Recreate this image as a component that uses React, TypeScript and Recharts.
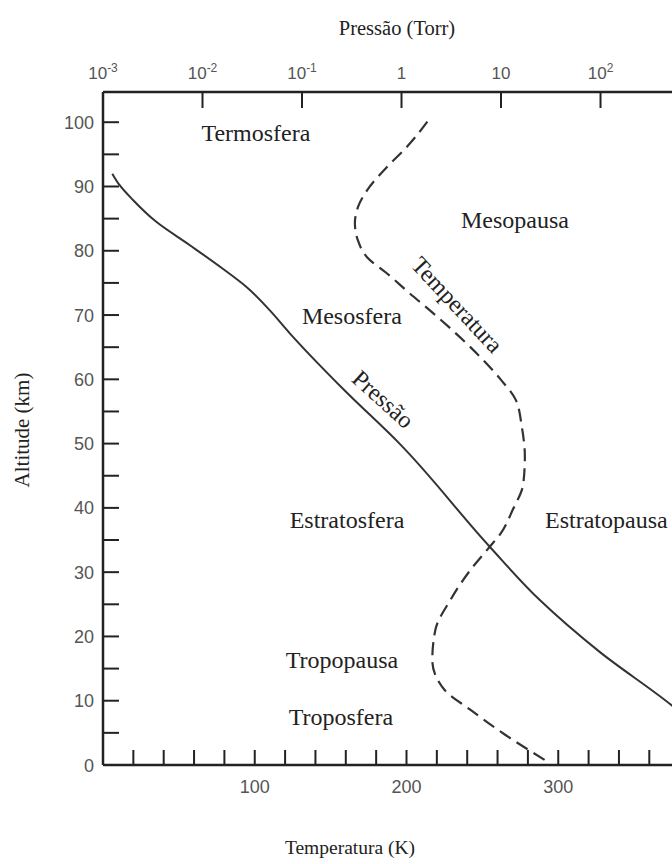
import React from 'react';
import { ScatterChart, Scatter, XAxis, YAxis, ReferenceDot } from 'recharts';

// Temperature profile (dashed): altitude in km, temperature in K
const tempAltitude = [0.8, 4.7, 8.6, 11.7, 16.3, 21, 25.7, 30.3, 34, 36, 39.7, 43.8, 48, 52.6, 56.8, 60, 63.5, 66.6, 70.3, 73.4, 76.5, 79, 81.6, 84.3, 86.8, 89.4, 93, 96.1, 100.8];
const temperature = [291, 265, 242, 225, 217, 219, 229, 242, 255, 262, 270, 277, 278, 276, 272, 262, 248.5, 235, 217.5, 202, 187, 174, 168, 166, 168, 174, 187, 200, 216];

// Pressure profile (solid): altitude in km, pressure in Torr
const pressureAltitude = [5, 9.3, 17.6, 25.7, 34, 50, 58.3, 67.2, 70.8, 74.4, 77.2, 80.9, 84.5, 87.9, 90.2, 92];
const pressure = [1100, 518, 98, 24.4, 7.66, 0.955, 0.267, 0.075, 0.047, 0.0275, 0.016, 0.0074, 0.00343, 0.002, 0.00147, 0.00124];

const altitudeTicks = [0, 5, 10, 15, 20, 25, 30, 35, 40, 45, 50, 55, 60, 65, 70, 75, 80, 85, 90, 95, 100];
const temperatureTicks = [20, 40, 60, 80, 100, 120, 140, 160, 180, 200, 220, 240, 260, 280, 300, 320, 340, 360, 380];
const temperatureLabels = [100, 200, 300];
const pressureTicks = [0.001, 0.01, 0.1, 1, 10, 100];

// region names, placed in temperature / altitude units
const regionLabels = [
  { text: 'Termosfera', temp: 100.8, alt: 98.3 },
  { text: 'Mesopausa', temp: 271.5, alt: 84.8 },
  { text: 'Mesosfera', temp: 164, alt: 69.9 },
  { text: 'Temperatura', temp: 233.3, alt: 71.6, angle: 47 },
  { text: 'Pressão', temp: 184.5, alt: 56.9, angle: 42 },
  { text: 'Estratopausa', temp: 291.3, alt: 38.1, anchor: 'start' },
  { text: 'Estratosfera', temp: 160.8, alt: 38.1 },
  { text: 'Tropopausa', temp: 157.5, alt: 16.3 },
  { text: 'Troposfera', temp: 156.8, alt: 7.5 },
];

const tempData = tempAltitude.map((alt, i) => ({ alt, temp: temperature[i] }));
const pressureData = pressureAltitude.map((alt, i) => ({ alt, pressure: pressure[i] }));

const INK = '#222';
const LINE = '#333';
const SANS = '"Liberation Sans", Arial, sans-serif';
const SERIF = '"Liberation Serif", "Times New Roman", serif';
const TICK_TEXT = { fontFamily: SANS, fontSize: 18, fill: '#555' };

const AltitudeTick = ({ x, y, payload }: any) => {
  const v = payload.value;
  return (
    <g>
      {v > 0 && <line x1={x} x2={x + 16} y1={y} y2={y} stroke={INK} strokeWidth={2} />}
      {v % 10 === 0 && (
        <text x={x - 9} y={y} dy={6.5} textAnchor="end" {...TICK_TEXT}>
          {v}
        </text>
      )}
    </g>
  );
};

const TemperatureTick = ({ x, y, payload }: any) => {
  const v = payload.value;
  return (
    <g>
      <line x1={x} x2={x} y1={y} y2={y - 15} stroke={INK} strokeWidth={2} />
      {temperatureLabels.includes(v) && (
        <text x={x} y={y + 28} textAnchor="middle" {...TICK_TEXT}>
          {v}
        </text>
      )}
    </g>
  );
};

const PressureTick = ({ x, y, payload, index }: any) => {
  const exp = Math.round(Math.log10(payload.value));
  return (
    <g>
      {index > 0 && <line x1={x} x2={x} y1={y} y2={y + 16} stroke={INK} strokeWidth={2} />}
      <text x={x} y={y - 13} textAnchor="middle" {...TICK_TEXT} fontSize={17}>
        {exp === 0 ? '1' : exp === 1 ? '10' : (
          <>
            10<tspan dy={-7} fontSize={12}>{exp}</tspan>
          </>
        )}
      </text>
    </g>
  );
};

const RegionLabel = ({ viewBox, text, angle, anchor }: any) => {
  const cx = viewBox.x + viewBox.width / 2;
  const cy = viewBox.y + viewBox.height / 2;
  return (
    <text
      x={cx}
      y={cy}
      textAnchor={anchor || 'middle'}
      dominantBaseline="central"
      transform={angle ? `rotate(${angle} ${cx} ${cy})` : undefined}
      fontFamily={SERIF}
      fontSize={24}
      fill={INK}
    >
      {text}
    </text>
  );
};

const noDot = () => <g />;

const titleStyle: React.CSSProperties = {
  position: 'absolute',
  fontFamily: SERIF,
  fontSize: 20.5,
  color: INK,
  whiteSpace: 'nowrap',
  transform: 'translate(-50%, -50%)',
};

export default function App() {
  return (
    <div style={{ position: 'fixed', left: 0, top: 0, width: 672, height: 864, overflow: 'hidden', background: '#fff' }}>
      <ScatterChart width={760} height={864} margin={{ top: 0, right: 50, bottom: 0, left: 0 }}>
        <XAxis
          xAxisId="pressure"
          orientation="top"
          dataKey="pressure"
          type="number"
          scale="log"
          domain={[0.001, 1260]}
          allowDataOverflow
          ticks={pressureTicks}
          interval={0}
          height={92}
          tickSize={0}
          tickMargin={0}
          tickLine={false}
          tick={PressureTick}
          axisLine={{ stroke: INK, strokeWidth: 2.5 }}
        />
        <XAxis
          xAxisId="temp"
          orientation="bottom"
          dataKey="temp"
          type="number"
          domain={[0, 400]}
          allowDataOverflow
          ticks={temperatureTicks}
          interval={0}
          height={99}
          tickSize={0}
          tickMargin={0}
          tickLine={false}
          tick={TemperatureTick}
          axisLine={{ stroke: INK, strokeWidth: 2.5 }}
        />
        <YAxis
          dataKey="alt"
          type="number"
          domain={[0, 104.7]}
          allowDataOverflow
          ticks={altitudeTicks}
          interval={0}
          width={103}
          tickSize={0}
          tickMargin={0}
          tickLine={false}
          tick={AltitudeTick}
          axisLine={{ stroke: INK, strokeWidth: 2.5 }}
        />
        <Scatter
          xAxisId="pressure"
          data={pressureData}
          line={{ stroke: LINE, strokeWidth: 2 }}
          lineJointType="monotoneY"
          shape={noDot}
          isAnimationActive={false}
        />
        <Scatter
          xAxisId="temp"
          data={tempData}
          line={{ stroke: LINE, strokeWidth: 2.2, strokeDasharray: '13 7' }}
          lineJointType="monotoneY"
          shape={noDot}
          isAnimationActive={false}
        />
        {regionLabels.map((r) => (
          <ReferenceDot
            key={r.text}
            xAxisId="temp"
            x={r.temp}
            y={r.alt}
            r={0}
            fill="none"
            stroke="none"
            label={(props: any) => <RegionLabel {...props} text={r.text} angle={r.angle} anchor={r.anchor} />}
          />
        ))}
      </ScatterChart>
      <div style={{ ...titleStyle, left: 397, top: 28 }}>Pressão (Torr)</div>
      <div style={{ ...titleStyle, left: 350, top: 848, fontSize: 19.5 }}>Temperatura (K)</div>
      <div style={{ ...titleStyle, left: 22, top: 430, fontSize: 21, transform: 'translate(-50%, -50%) rotate(-90deg)' }}>Altitude (km)</div>
    </div>
  );
}
